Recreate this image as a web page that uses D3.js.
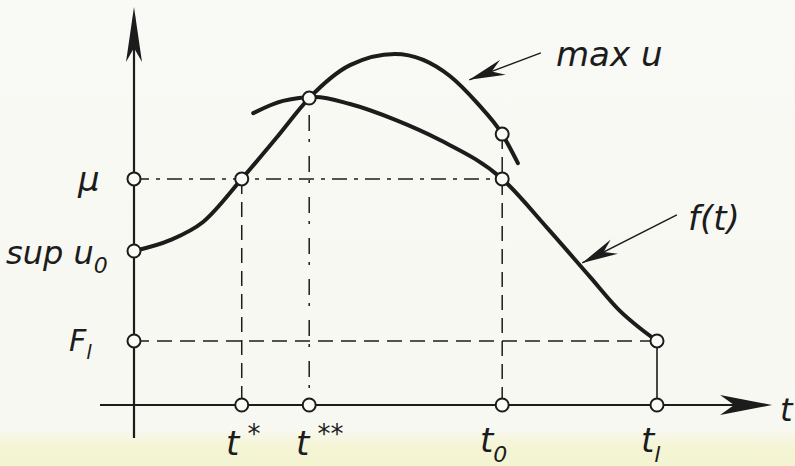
<!DOCTYPE html>
<html><head><meta charset="utf-8">
<script src="https://cdn.jsdelivr.net/npm/d3@7"></script>
<style>
html,body{margin:0;padding:0;background:#f8f8f3;}
svg{display:block;}
text{font-family:"DejaVu Sans",sans-serif;font-style:oblique;fill:#1c1c1c;}
</style></head>
<body>
<script>
// ---- data (schematic units) ----
const tickNames = ["t*", "t**", "t0", "tl"];
const tickValues = [2.06, 3.35, 7.04, 10];
const levelNames = ["μ", "sup u0", "Fl"];
const levelValues = [6.46, 4.4, 1.83];
const peakValue = 8.77;
const maxUAtT0 = 7.74;
// curve "max u"
const maxUT = [0, 0.69, 1.32, 2.06, 2.72, 3.35, 4.13, 4.99, 6.04, 6.56, 7.04, 7.34];
const maxUV = [4.4, 4.71, 5.23, 6.46, 7.63, 8.77, 9.71, 10.03, 9.4, 8.63, 7.74, 6.91];
// curve f(t)
const fT = [2.28, 2.85, 3.46, 4.13, 5.01, 5.85, 7.04, 7.90, 8.72, 9.29, 9.67, 10];
const fV = [8.34, 8.69, 8.80, 8.60, 8.14, 7.57, 6.46, 5.06, 3.66, 2.69, 2.20, 1.83];

const W = 795, H = 466;
const x = d3.scaleLinear().domain([0, 10]).range([134, 657]);
const y = d3.scaleLinear().domain([0, 10]).range([405, 55]);

const svg = d3.select("body").append("svg").attr("width", W).attr("height", H);
const defs = svg.append("defs");
const grad = defs.append("linearGradient").attr("id", "bg").attr("x1", 0).attr("y1", 0).attr("x2", 0).attr("y2", 1);
grad.append("stop").attr("offset", "0").attr("stop-color", "#f9f9f5");
grad.append("stop").attr("offset", "0.92").attr("stop-color", "#f8f8f2");
grad.append("stop").attr("offset", "0.955").attr("stop-color", "#f5f5d7");
grad.append("stop").attr("offset", "1").attr("stop-color", "#f3f4d0");
svg.append("rect").attr("width", W).attr("height", H).attr("fill", "url(#bg)");

const ink = "#1c1c1c";
const g = svg.append("g");

// axes
g.append("line").attr("x1", x(0)).attr("x2", x(0)).attr("y1", y(-0.94)).attr("y2", y(11.1))
  .attr("stroke", ink).attr("stroke-width", 2.2);
g.append("line").attr("x1", x(-0.65)).attr("x2", x(11.9)).attr("y1", y(0)).attr("y2", y(0))
  .attr("stroke", ink).attr("stroke-width", 2.2);

function arrowHead(tx, ty, dx, dy, len, half, notch) {
  const n = Math.hypot(dx, dy); dx /= n; dy /= n;
  const px = -dy, py = dx;
  const bx = tx + dx * len, by = ty + dy * len;
  const nx = tx + dx * (len - notch), ny = ty + dy * (len - notch);
  return `M${tx},${ty}L${bx + px * half},${by + py * half}L${nx},${ny}L${bx - px * half},${by - py * half}Z`;
}
g.append("path").attr("d", arrowHead(x(0), y(11.37), 0, 1, 55, 8, 14)).attr("fill", ink);
g.append("path").attr("d", arrowHead(x(12.2), y(0), -1, 0, 52, 10, 14)).attr("fill", ink);

// dashed guides
const dash = "15,8";
function dline(x1, y1, x2, y2, da) {
  g.append("line").attr("x1", x(x1)).attr("y1", y(y1)).attr("x2", x(x2)).attr("y2", y(y2))
    .attr("stroke", ink).attr("stroke-width", 1.5).attr("stroke-dasharray", da || dash);
}
dline(0, levelValues[0], tickValues[2], levelValues[0], "15,7,4,7");
dline(0, levelValues[2], tickValues[3], levelValues[2]);
dline(tickValues[0], levelValues[0], tickValues[0], 0);
dline(tickValues[1], peakValue, tickValues[1], 0, "3,14,16,8");
dline(tickValues[2], maxUAtT0, tickValues[2], 0);
g.append("line").attr("x1", x(tickValues[3])).attr("x2", x(tickValues[3]))
  .attr("y1", y(levelValues[2])).attr("y2", y(0)).attr("stroke", ink).attr("stroke-width", 1.6);

// curves
const line = d3.line().x(d => x(d[0])).y(d => y(d[1])).curve(d3.curveMonotoneX);
g.append("path").attr("d", line(d3.zip(maxUT, maxUV))).attr("fill", "none")
  .attr("stroke", ink).attr("stroke-width", 4).attr("stroke-linecap", "round");
g.append("path").attr("d", line(d3.zip(fT, fV))).attr("fill", "none")
  .attr("stroke", ink).attr("stroke-width", 4).attr("stroke-linecap", "round");

// leader arrows
function leader(t1, v1, t2, v2) {
  const x1 = x(t1), y1 = y(v1), x2 = x(t2), y2 = y(v2);
  g.append("line").attr("x1", x1).attr("y1", y1).attr("x2", x2).attr("y2", y2)
    .attr("stroke", ink).attr("stroke-width", 1.5);
  g.append("path").attr("d", arrowHead(x2, y2, x1 - x2, y1 - y2, 36, 8, 12)).attr("fill", ink);
}
leader(7.78, 10.06, 6.41, 9.29);
leader(10.38, 5.43, 8.57, 4.06);

// marker circles
const pts = [
  [0, levelValues[0]], [0, levelValues[1]], [0, levelValues[2]],
  [tickValues[0], levelValues[0]], [tickValues[1], peakValue],
  [tickValues[2], levelValues[0]], [tickValues[2], maxUAtT0],
  [tickValues[3], levelValues[2]],
  [tickValues[0], 0], [tickValues[1], 0], [tickValues[2], 0], [tickValues[3], 0]
];
g.selectAll("circle.m").data(pts).join("circle").attr("class", "m")
  .attr("cx", d => x(d[0])).attr("cy", d => y(d[1])).attr("r", 6.5)
  .attr("fill", "#fbfbf8").attr("stroke", ink).attr("stroke-width", 2);

// labels
function label(px, py, main, sub, size, subSize, sup) {
  const t = svg.append("text").attr("x", px).attr("y", py).attr("font-size", size);
  t.append("tspan").text(main);
  if (sub) t.append("tspan").attr("font-size", subSize).attr("dy", sup ? -size * 0.35 : size * 0.28).text(sub);
  return t;
}
label(78, 191, levelNames[0], null, 34);
label(6, 264, "sup u", "0", 32, 22);
label(69, 351, "F", "l", 30, 20);
label(226, 455, "t", " *", 34, 26, true);
label(296, 455, "t", " **", 34, 26, true);
label(480, 452, "t", "0", 34, 22);
label(641, 452, "t", "l", 34, 22);
label(780, 421, "t", null, 32);
label(556, 66, "max u", null, 34);
label(688, 230, "f(t)", null, 34);
</script>
</body></html>
